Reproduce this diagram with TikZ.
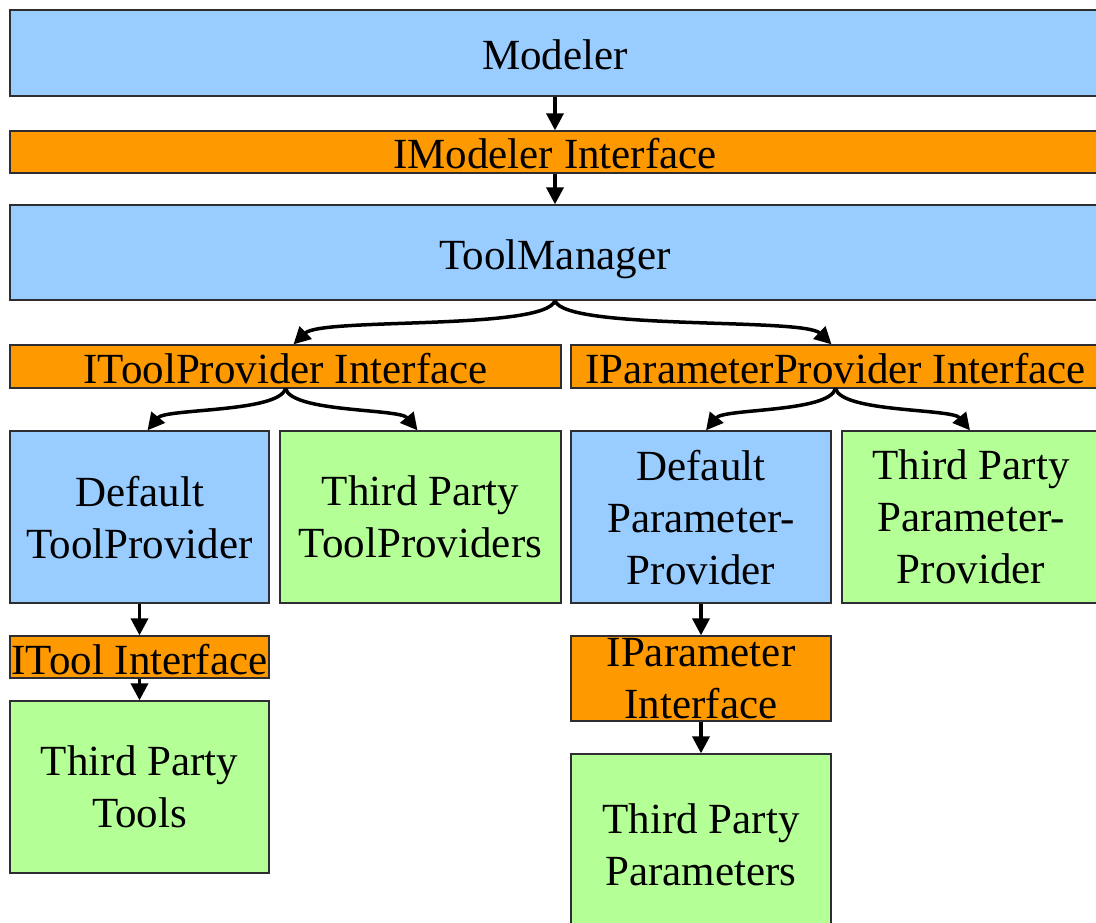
\documentclass[tikz,border=0pt]{standalone}
\usepackage{fontspec}
\setmainfont{Liberation Serif}
\usetikzlibrary{arrows.meta}

\definecolor{boxblue}{RGB}{153,204,255}
\definecolor{boxorange}{RGB}{255,153,0}
\definecolor{boxgreen}{RGB}{180,255,150}
\definecolor{edgegray}{RGB}{45,45,50}

\tikzset{
  block/.style={draw=edgegray, line width=1.3pt, rectangle, inner sep=0pt,
    align=center, font=\fontsize{43}{52}\selectfont, text=black},
  oneline/.style={text height=34pt, text depth=0pt},
  multiline/.style={text depth=-6pt},
  comp/.style={block, fill=boxblue},
  iface/.style={block, fill=boxorange},
  extern/.style={block, fill=boxgreen},
  link/.style={line width=3.5pt, black, -{Triangle[length=17pt,width=17pt]}},
}

\begin{document}
\begin{tikzpicture}[x=1pt, y=-1pt]
  \useasboundingbox (0,0) rectangle (1096,923);
  \clip (0,0) rectangle (1096,923);

  % core chain
  \node[comp,  oneline, minimum width=1090pt, minimum height=86pt] (modeler) at (555,53)    {Modeler};
  \node[iface, oneline, minimum width=1090pt, minimum height=42pt] (imod)    at (555,152)   {IModeler Interface};
  \node[comp,  oneline, minimum width=1090pt, minimum height=95pt] (tm)      at (555,252.5) {ToolManager};

  % provider interfaces
  \node[iface, oneline, minimum width=551pt, minimum height=43pt] (itp) at (285.5,366.5) {IToolProvider Interface};
  \node[iface, oneline, minimum width=529pt, minimum height=43pt] (ipp) at (835.5,366.5) {IParameterProvider Interface};

  % providers
  \node[comp,   multiline, minimum width=259pt, minimum height=172pt] (dtp) at (139.5,517) {Default\\ToolProvider};
  \node[extern, multiline, minimum width=281pt, minimum height=172pt] (ttp) at (420.5,517) {Third Party\\ToolProviders};
  \node[comp,   multiline, minimum width=260pt, minimum height=172pt] (dpp) at (701,517)   {Default\\Parameter-\\Provider};
  \node[extern, multiline, minimum width=258pt, minimum height=172pt] (tpp) at (971,517)   {Third Party\\Parameter-\\Provider};

  % tools branch
  \node[iface,  oneline,   minimum width=259pt, minimum height=42pt]  (itool) at (139.5,657) {ITool Interface};
  \node[extern, multiline, minimum width=259pt, minimum height=172pt] (tools) at (139.5,787) {Third Party\\Tools};

  % parameters branch
  \node[iface,  multiline, minimum width=260pt, minimum height=85pt]  (iparam) at (701,678.5) {IParameter\\Interface};
  \node[extern, multiline, minimum width=260pt, minimum height=182pt] (params) at (701,845)   {Third Party\\Parameters};

  % straight links
  \draw[link] (modeler.south) -- (imod.north);
  \draw[link] (imod.south) -- (tm.north);
  \draw[link] (dtp.south) -- (itool.north);
  \draw[link] (itool.south) -- (tools.north);
  \draw[link] (dpp.south) -- (iparam.north);
  \draw[link] (iparam.south) -- (params.north);

  % curved links from the manager
  \draw[link] (tm.south) .. controls +(-10,30) and +(28,-27) .. ([xshift=8pt]itp.north);
  \draw[link] (tm.south) .. controls +(10,30) and +(-28,-27) .. ([xshift=-4pt]ipp.north);

  % curved links from the provider interfaces
  \draw[link] (itp.south) .. controls +(-7,24) and +(18,-22) .. ([xshift=8pt]dtp.north);
  \draw[link] (itp.south) .. controls +(7,24) and +(-18,-22) .. ([xshift=-3pt]ttp.north);
  \draw[link] (ipp.south) .. controls +(-7,24) and +(18,-22) .. ([xshift=5pt]dpp.north);
  \draw[link] (ipp.south) .. controls +(7,24) and +(-18,-22) .. ([xshift=-1pt]tpp.north);
\end{tikzpicture}
\end{document}
